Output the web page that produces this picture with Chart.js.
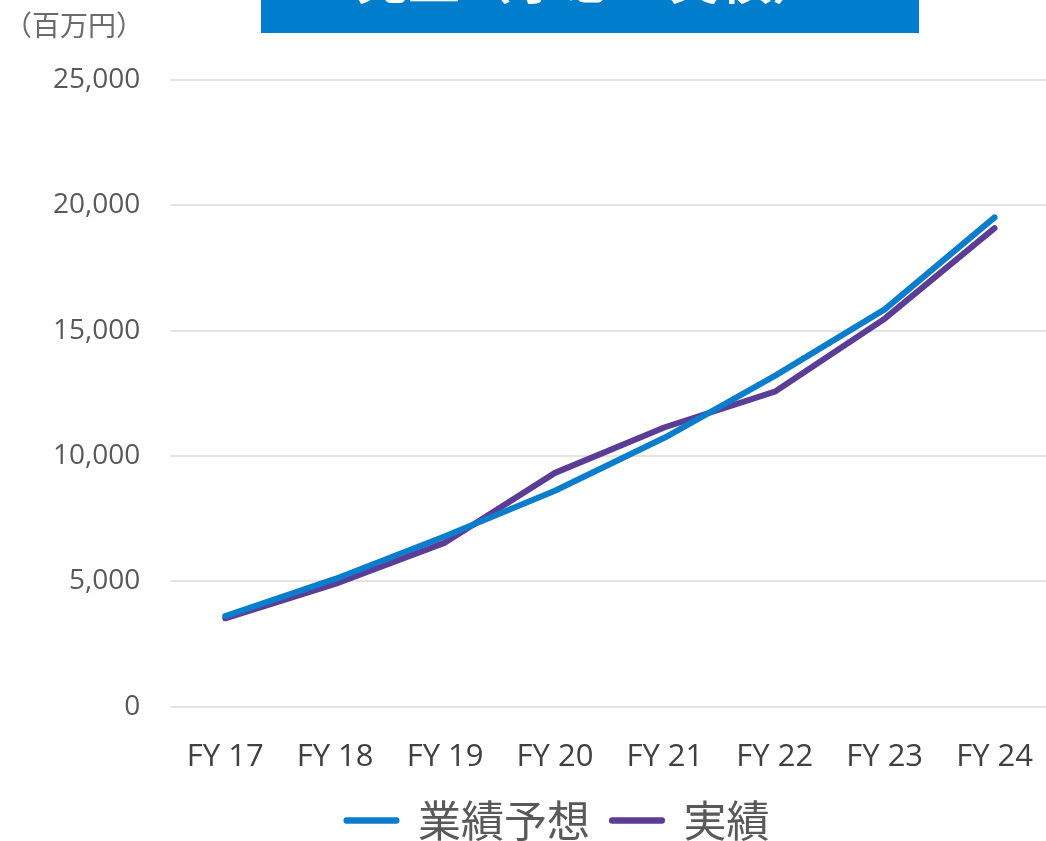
<!DOCTYPE html>
<html>
<head>
<meta charset="utf-8">
<script src="https://cdn.jsdelivr.net/npm/chart.js@4"></script>
<style>
  html, body { margin: 0; padding: 0; background: #fff; overflow: hidden; }
  #wrap { width: 1065px; height: 856px; position: relative; }
</style>
</head>
<body>
<div id="wrap"><canvas id="c"></canvas></div>
<script>
const categories = ["FY 17", "FY 18", "FY 19", "FY 20", "FY 21", "FY 22", "FY 23", "FY 24"];
const forecastValues = [3620, 5100, 6800, 8620, 10740, 13200, 15850, 19520];
const actualValues = [3530, 4900, 6550, 9330, 11150, 12570, 15480, 19090];
const seriesNames = ["業績予想", "実績"];
const titleText = "売上（予想・実績）";
const unitText = "（百万円）";

const BLUE = "#0A7ECC";
const PURPLE = "#5B3D98";

const decorPlugin = {
  id: "decor",
  afterDraw(chart) {
    const ctx = chart.ctx;
    ctx.save();
    ctx.fillStyle = "#007ECE";
    ctx.fillRect(261, 0, 658, 33);
    ctx.fillStyle = "#ffffff";
    ctx.font = "bold 52px 'Noto Sans CJK JP'";
    ctx.textAlign = "center";
    ctx.textBaseline = "middle";
    ctx.fillText(titleText, 590, -21);
    ctx.fillStyle = "#6b6b6b";
    ctx.font = "28px 'Noto Sans CJK JP'";
    ctx.textAlign = "left";
    ctx.fillText(unitText, 4, 25);
    ctx.restore();
  }
};

new Chart(document.getElementById("c"), {
  type: "line",
  data: {
    labels: categories,
    datasets: [
      { label: seriesNames[0], data: forecastValues, borderColor: BLUE, backgroundColor: BLUE,
        borderWidth: 6, pointRadius: 0, tension: 0, borderCapStyle: "round", borderJoinStyle: "round" },
      { label: seriesNames[1], data: actualValues, borderColor: PURPLE, backgroundColor: PURPLE,
        borderWidth: 6, pointRadius: 0, tension: 0, borderCapStyle: "round", borderJoinStyle: "round" }
    ]
  },
  options: {
    responsive: true,
    maintainAspectRatio: false,
    animation: false,
    layout: { padding: { left: 51, right: 0, top: 80, bottom: 4 } },
    plugins: {
      title: { display: false },
      tooltip: { enabled: false },
      legend: {
        position: "bottom",
        labels: {
          boxWidth: 50, boxHeight: 0.5, padding: 22,
          color: "#595959",
          font: { family: "'Noto Sans CJK JP'", size: 43, lineHeight: 1 }
        }
      }
    },
    scales: {
      x: {
        offset: true,
        grid: { display: false, drawTicks: false },
        border: { display: false },
        ticks: { color: "#404040", padding: 32, font: { family: "'Open Sans'", size: 31 } },
        afterFit: scale => { scale.height -= 31; }
      },
      y: {
        min: 0, max: 25000,
        grid: { color: "#E4E4E4", lineWidth: 2, drawTicks: false },
        border: { display: false },
        ticks: {
          stepSize: 5000, padding: 30, color: "#595959",
          font: { family: "'Open Sans'", size: 28 },
          callback: v => v.toLocaleString("en-US")
        },
        afterFit: scale => { scale.width -= 28; }
      }
    }
  },
  plugins: [decorPlugin]
});
</script>
</body>
</html>
